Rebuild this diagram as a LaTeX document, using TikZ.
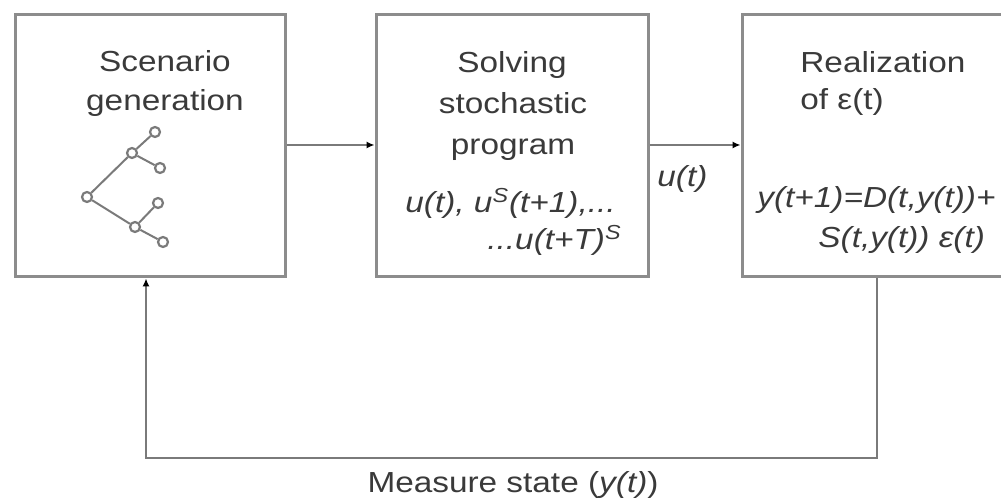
\documentclass[tikz,border=0pt]{standalone}
\usepackage{fontspec}
\setmainfont{Liberation Sans}[FakeStretch=1.15]
\usetikzlibrary{arrows.meta}
\definecolor{boxgray}{HTML}{8C8C8C}
\definecolor{linegray}{HTML}{7A7A7A}
\definecolor{txt}{HTML}{3A3A3A}
\begin{document}
\begin{tikzpicture}[x=0.5pt,y=-0.5pt,
  blockbox/.style={draw=boxgray,line width=1.5pt,minimum height=131pt,inner sep=0pt},
  txtline/.style={inner sep=0pt,text=txt,font=\fontsize{14.5}{17}\selectfont},
  flow/.style={draw=linegray,line width=1pt,-{Latex[length=4pt,width=3.6pt,black]}},
  leaf/.style={circle,draw=linegray,line width=1.1pt,fill=white,inner sep=0pt,minimum size=5pt},
  branch/.style={draw=linegray,line width=1pt}]
\useasboundingbox (0,0) rectangle (1001,501);
\clip (0,0) rectangle (1001,501);
% boxes
\node[blockbox,minimum width=135pt] (b1) at (150,146) {};
\node[blockbox,minimum width=136pt] (b2) at (512,146) {};
\node[blockbox,minimum width=131pt] (b3) at (873,146) {};
% box 1 text
\node[txtline,anchor=base] (t11) at (165,72) {Scenario};
\node[txtline,anchor=base] (t12) at (165,111) {generation};
% tree
\node[leaf] (r) at (87,197) {};
\node[leaf] (m1) at (132,153) {};
\node[leaf] (m2) at (135,227) {};
\node[leaf] (l1) at (155,132) {};
\node[leaf] (l2) at (160,168) {};
\node[leaf] (l3) at (158,203) {};
\node[leaf] (l4) at (163,242) {};
\draw[branch] (r) -- (m1); \draw[branch] (r) -- (m2);
\draw[branch] (m1) -- (l1); \draw[branch] (m1) -- (l2);
\draw[branch] (m2) -- (l3); \draw[branch] (m2) -- (l4);
% box 2 text
\node[txtline,anchor=base] (t21) at (512,73) {Solving};
\node[txtline,anchor=base] (t22) at (513,114) {stochastic};
\node[txtline,anchor=base] (t23) at (513,155) {program};
\node[txtline,anchor=base west] (t24) at (405,213) {\itshape u(t), u\textsuperscript{S}(t+1),...};
\node[txtline,anchor=base west] (t25) at (487,250) {\itshape ...u(t+T)\textsuperscript{S}};
% box 3 text
\node[txtline,anchor=base west] (t31) at (800,73) {Realization};
\node[txtline,anchor=base west] (t32) at (800,110) {of ε(t)};
\node[txtline,anchor=base west] (t33) at (757,208) {\itshape y(t+1)=D(t,y(t))+};
\node[txtline,anchor=base west] (t34) at (818,248) {\itshape S(t,y(t)) ε(t)};
% connectors
\draw[flow] (b1.east |- 0,145) -- (b2.west |- 0,145);
\draw[flow] (b2.east |- 0,145) -- (b3.west |- 0,145);
\node[txtline,anchor=base west] (ut) at (657,187) {\itshape u(t)};
\coordinate (c1) at (877,458);
\coordinate (c2) at (146,458);
\draw[flow] (b3.south -| c1) -- (c1) -- (c2) -- (b1.south -| c2);
\node[txtline,anchor=base] (ms) at (513,493) {Measure state (\textit{y(t)})};
\end{tikzpicture}
\end{document}
